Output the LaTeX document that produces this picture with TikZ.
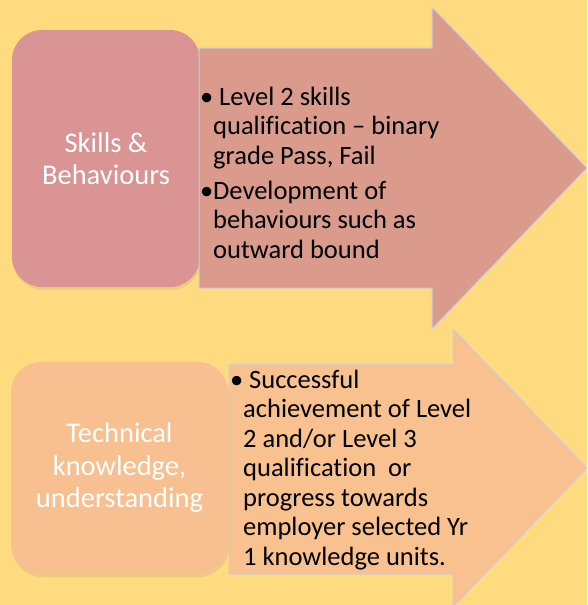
\documentclass[tikz,border=0pt]{standalone}
\usepackage{fontspec}
\setmainfont[Ligatures={TeX,NoCommon}]{Carlito}
\usetikzlibrary{shadows}
\definecolor{bgyellow}{RGB}{255,219,128}
\definecolor{skillrose}{RGB}{217,148,147}
\definecolor{skillarrow}{RGB}{218,155,141}
\definecolor{techpeach}{RGB}{248,192,144}
\definecolor{techarrow}{RGB}{249,193,143}
\definecolor{arrowedge}{RGB}{204,204,222}
\begin{document}
\begin{tikzpicture}
[x=1pt,y=-1pt,
  boxdecorate/.style={shape=rectangle,rounded corners=30pt,inner sep=0pt,%
    text=white,align=center,font=\fontsize{28.5}{32.5}\selectfont,%
    drop shadow={opacity=0.15,shadow xshift=1pt,shadow yshift=-3pt}},%
  arrowdecorate/.style={draw=arrowedge,line width=1pt,line join=miter},%
  textdecorate/.style={anchor=base west,inner sep=0pt,%
    font=\fontsize{26.5}{29.5}\selectfont}]
%% background and page size
\fill[bgyellow] (0,0) rectangle (587,605);
\useasboundingbox (0,0) rectangle (587,605);
%% top row: skills
\node (skills) at (106,158.5) [boxdecorate,fill=skillrose,%
  minimum width=188pt,minimum height=257pt] {Skills \&\\Behaviours};
\draw[arrowdecorate,fill=skillarrow] (199,48) -- (432,48) -- (432,7)
  -- (587,168) -- (432,329) -- (432,288) -- (199,288) -- cycle;
\node (skillstext) at (213,105) [textdecorate] {%
  \begin{tabular}[t]{@{}l@{}}
  \llap{•}\ Level 2 skills\\
  qualification -- binary\\
  grade Pass, Fail\\[5.5pt]
  \llap{•}Development of\\
  behaviours such as\\
  outward bound
  \end{tabular}};
%% bottom row: technical knowledge
\node (technical) at (119.5,468) [boxdecorate,fill=techpeach,%
  minimum width=217pt,minimum height=212pt]
  {Technical\\knowledge,\\understanding};
\draw[arrowdecorate,fill=techarrow] (229,364) -- (453,364) -- (453,329)
  -- (587,468) -- (453,607) -- (453,574) -- (229,574) -- cycle;
\node (techtext) at (243,388) [textdecorate] {%
  \begin{tabular}[t]{@{}l@{}}
  \llap{•}\ Successful\\
  achievement of Level\\
  2 and/or Level 3\\
  qualification\ \ or\\
  progress towards\\
  employer selected Yr\\
  1 knowledge units.
  \end{tabular}};
\end{tikzpicture}
\end{document}
